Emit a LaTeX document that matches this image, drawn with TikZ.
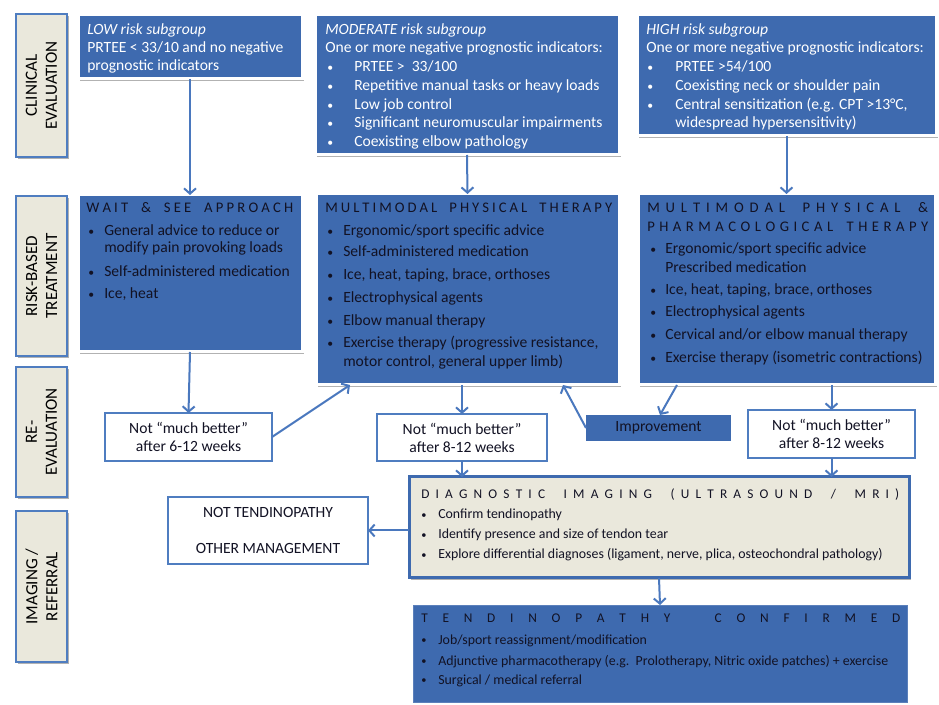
\documentclass[tikz,border=0pt]{standalone}
\usepackage{graphicx}
\usepackage{fontspec}
\setmainfont{Carlito}
\usetikzlibrary{arrows.meta,shadows,fit,calc}
\definecolor{bbox}{RGB}{62,106,175}
\definecolor{beige}{RGB}{234,232,220}
\definecolor{lblue}{RGB}{79,125,192}
\definecolor{arrc}{RGB}{74,120,190}
\definecolor{dtext}{RGB}{18,18,36}
\newcommand\fs[2]{\fontsize{#1}{#2}\selectfont}
\newcommand\spreadtxt[2]{\makebox[#1][s]{#2}}
\newcommand\smallbul{\raisebox{0.12ex}{\scalebox{0.75}{•}}}
\newcommand\Tline[4][]{\node[txt,#1] (#2) at (#3) {#4};}
\newcommand\Bline[5][]{\node[txt,#1] (#2) at (#3) {\makebox[#4][l]{\smallbul}#5};}
\tikzset{
  area/.style={fit={#1}, inner sep=0pt, outer sep=0pt},
  shad/.style={drop shadow={shadow xshift=1.5pt,shadow yshift=-1.5pt,opacity=0.3,fill=black}},
  lab/.style={fill=beige, draw=lblue, line width=1.5pt, shad},
  labt/.style={rotate=90, align=center, font=\fs{12.8}{15}, text=black, inner sep=0pt},
  bluebox/.style={fill=bbox, draw=white, line width=2.25pt, shad},
  plainblue/.style={fill=bbox, draw=bbox!85!white, line width=0.75pt},
  wbox/.style={fill=white, draw=lblue, line width=1.5pt},
  ctext/.style={align=center, font=\fs{11.7}{13.5}, text=dtext, inner sep=0pt},
  diagbox/.style={fill=beige, draw=bbox, line width=2.25pt, shad},
  txt/.style={anchor=base west, inner sep=0pt, font=\fs{11.7}{13}},
  wt/.style={text=white},
  dk/.style={text=dtext},
  hd/.style={text=dtext, font=\fs{11}{12}},
  sm/.style={text=dtext, font=\fs{10.4}{11}},
  smh/.style={text=dtext, font=\fs{10}{11}},
  arr/.style={draw=arrc, line width=1.5pt, -{Straight Barb[length=4pt,width=9pt]}}
}
\begin{document}
\begin{tikzpicture}[x=0.75pt,y=-0.75pt]
\useasboundingbox (0,0) rectangle (939,705);
\fill[white] (0,0) rectangle (939,705);

% ---- left labels
\node[lab, area={(16,14)(67,157)}] (lab1) {};
\node[labt] (lab1t) at (lab1.center) {CLINICAL\\EVALUATION};
\node[lab, area={(16,196)(67,356)}] (lab2) {};
\node[labt] (lab2t) at (lab2.center) {RISK-BASED\\TREATMENT};
\node[lab, area={(16,367)(67,497)}] (lab3) {};
\node[labt] (lab3t) at (lab3.center) {RE-\\EVALUATION};
\node[lab, area={(16,511)(67,662)}] (lab4) {};
\node[labt] (lab4t) at (lab4.center) {IMAGING /\\REFERRAL};

% ---- top boxes
\node[bluebox, area={(78,15)(302,79)}] (low) {};
\node[bluebox, area={(315,15)(619,155)}] (mod) {};
\node[bluebox, area={(637,15)(936,136)}] (high) {};

\Tline[wt]{low1}{87,35}{\textit{LOW risk subgroup}}
\Tline[wt]{low2}{87,53}{PRTEE < 33/10 and no negative}
\Tline[wt]{low3}{87,71}{prognostic indicators}

\Tline[wt]{mod1}{325,35}{\textit{MODERATE risk subgroup}}
\Tline[wt]{mod2}{325,53}{One or more negative prognostic indicators:}
\Bline[wt]{mod3}{327,72}{20.25pt}{PRTEE >\ \ 33/100}
\Bline[wt]{mod4}{327,91}{20.25pt}{Repetitive manual tasks or heavy loads}
\Bline[wt]{mod5}{327,110}{20.25pt}{Low job control}
\Bline[wt]{mod6}{327,128}{20.25pt}{Significant neuromuscular impairments}
\Bline[wt]{mod7}{327,147}{20.25pt}{Coexisting elbow pathology}

\Tline[wt]{high1}{646,35}{\textit{HIGH risk subgroup}}
\Tline[wt]{high2}{646,53}{One or more negative prognostic indicators:}
\Bline[wt]{high3}{647,72}{21pt}{PRTEE >54/100}
\Bline[wt]{high4}{647,91}{21pt}{Coexisting neck or shoulder pain}
\Bline[wt]{high5}{647,110}{21pt}{Central sensitization (e.g. CPT >13°C,}
\Tline[wt]{high6}{675,128}{widespread hypersensitivity)}

% ---- treatment boxes
\node[bluebox, area={(78,195)(302,352)}] (wait) {};
\node[bluebox, area={(316,194)(619,385)}] (mmpt) {};
\node[bluebox, area={(638,194)(935,385)}] (mmppt) {};

\Tline[hd]{wait0}{86,213}{\spreadtxt{155.25pt}{W A I T \ \ \ \& \ \ \ S E E \ \ \ A P P R O A C H}}
\Bline[dk]{wait1}{88,236}{12pt}{General advice to reduce or}
\Tline[dk]{wait2}{104,253}{modify pain provoking loads}
\Bline[dk]{wait3}{88,277}{12pt}{Self-administered medication}
\Bline[dk]{wait4}{88,299}{12pt}{Ice, heat}

\Tline[hd]{mmpt0}{325,213}{\spreadtxt{215.25pt}{M U L T I M O D A L \ \ \ P H Y S I C A L \ \ \ T H E R A P Y}}
\Bline[dk]{mmpt1}{327,236}{12pt}{Ergonomic/sport specific advice}
\Bline[dk]{mmpt2}{327,257}{12pt}{Self-administered medication}
\Bline[dk]{mmpt3}{327,280}{12pt}{Ice, heat, taping, brace, orthoses}
\Bline[dk]{mmpt4}{327,303}{12pt}{Electrophysical agents}
\Bline[dk]{mmpt5}{327,326}{12pt}{Elbow manual therapy}
\Bline[dk]{mmpt6}{327,348}{12pt}{Exercise therapy (progressive resistance,}
\Tline[dk]{mmpt7}{343,367}{motor control, general upper limb)}

\Tline[hd]{mmppt0}{647,213}{\spreadtxt{210.75pt}{M U L T I M O D A L \ \ P H Y S I C A L \ \ \&}}
\Tline[hd]{mmppt00}{647,232}{\spreadtxt{210.75pt}{P H A R M A C O L O G I C A L \ \ T H E R A P Y}}
\Bline[dk]{mmppt1}{650,254}{11.25pt}{Ergonomic/sport specific advice}
\Tline[dk]{mmppt2}{665,273}{Prescribed medication}
\Bline[dk]{mmppt3}{650,295}{11.25pt}{Ice, heat, taping, brace, orthoses}
\Bline[dk]{mmppt4}{650,317}{11.25pt}{Electrophysical agents}
\Bline[dk]{mmppt5}{650,340}{11.25pt}{Cervical and/or elbow manual therapy}
\Bline[dk]{mmppt6}{650,363}{11.25pt}{Exercise therapy (isometric contractions)}

% ---- re-evaluation
\node[wbox, area={(105,413)(272,461)}] (sixw) {};
\node[ctext] (sixwt) at (sixw.center) {Not “much better”\\after 6-12 weeks};
\node[wbox, area={(377,414)(547,461)}] (mid8) {};
\node[ctext] (mid8t) at (mid8.center) {Not “much better”\\after 8-12 weeks};
\node[wbox, area={(748,410)(915,458)}] (right8) {};
\node[ctext] (right8t) at (right8.center) {Not “much better”\\after 8-12 weeks};
\node[fill=bbox, area={(586,415)(731,441)}] (impr) {};
\node[ctext] (imprt) at (impr.center) {Improvement};

% ---- imaging / referral
\node[diagbox, area={(409,477)(909,578)}] (diag) {};
\Tline[smh]{diag0}{421,499}{\spreadtxt{358.5pt}{D I A G N O S T I C \ \ I M A G I N G \ \ ( U L T R A S O U N D \ \ / \ \ M R I )}}
\Bline[sm]{diag1}{421,519}{12.75pt}{Confirm tendinopathy}
\Bline[sm]{diag2}{421,539}{12.75pt}{Identify presence and size of tendon tear}
\Bline[sm]{diag3}{421,559}{12.75pt}{Explore differential diagnoses (ligament, nerve, plica, osteochondral pathology)}

\node[wbox, line width=2pt, area={(168,497)(368,564)}] (nott) {};
\node[ctext] (nottt) at (nott.center) {NOT TENDINOPATHY\\[14pt]OTHER MANAGEMENT};

\node[plainblue, area={(413,605)(907,702)}] (tconf) {};
\Tline[smh]{tconf0}{421,623}{\spreadtxt{359.25pt}{T E N D I N O P A T H Y \ \ C O N F I R M E D}}
\Bline[sm]{tconf1}{421,644}{12.75pt}{Job/sport reassignment/modification}
\Bline[sm]{tconf2}{421,665}{12.75pt}{Adjunctive pharmacotherapy (e.g.\ \ Prolotherapy, Nitric oxide patches) + exercise}
\Bline[sm]{tconf3}{421,684}{12.75pt}{Surgical / medical referral}

% ---- connectors
\draw[arr] (low.south) -- (wait.north);
\draw[arr] (mod.south) -- (mmpt.north);
\draw[arr] (high.south) -- (mmppt.north);
\draw[arr] (wait.south) -- (sixw.north);
\draw[arr] (sixw.east) -- ($(mmpt.south west)+(34,0)$);
\draw[arr] (mid8.north |- mmpt.south) -- (mid8.north);
\draw[arr] (mid8.south) -- (mid8.south |- diag.north);
\draw[arr] (impr.west) -- ($(mmpt.south east)+(-56,0)$);
\draw[arr] ($(mmppt.south west)+(39,0)$) -- ($(impr.north west)+(74,0)$);
\draw[arr] (right8.north |- mmppt.south) -- (right8.north);
\draw[arr] (right8.south) -- (right8.south |- diag.north);
\draw[arr] (diag.west |- nott.east) -- (nott.east);
\draw[arr] (diag.south) -- (tconf.north);
\end{tikzpicture}
\end{document}
